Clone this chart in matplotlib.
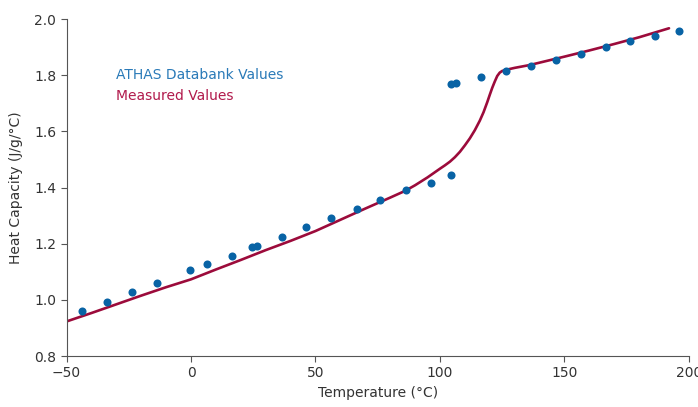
import numpy as np
import matplotlib.pyplot as plt

# ATHAS databank points
athas_t = [-43.6, -33.7, -23.5, -13.5, -0.4, 6.6, 16.5, 24.6, 26.4, 36.5, 46.3, 56.4,
           66.5, 76.1, 86.3, 96.5, 104.4, 104.4, 106.5, 116.6, 126.4, 136.6, 146.6,
           156.7, 166.7, 176.5, 186.3, 196.1]
athas_cp = [0.960, 0.992, 1.029, 1.060, 1.105, 1.126, 1.157, 1.187, 1.190, 1.225, 1.258, 1.290,
            1.323, 1.356, 1.390, 1.417, 1.443, 1.767, 1.773, 1.793, 1.814, 1.834, 1.855,
            1.875, 1.901, 1.920, 1.938, 1.959]

# measured curve
meas_t = [-50, -40, -30, -20, -10, 0, 10, 20, 30, 40, 50, 60, 70, 80, 86, 90, 95, 100,
          102, 104, 106, 108, 110, 112, 114, 116, 117.5, 119, 120, 121, 122, 123, 124,
          125, 126.5, 128, 130, 136, 150, 160, 170, 180, 192]
meas_cp = [0.923, 0.953, 0.984, 1.015, 1.045, 1.073, 1.108, 1.142, 1.177, 1.210, 1.245,
           1.285, 1.325, 1.364, 1.388, 1.408, 1.436, 1.467, 1.479, 1.492, 1.508, 1.527,
           1.550, 1.575, 1.604, 1.638, 1.668, 1.704, 1.730, 1.755, 1.777, 1.797, 1.809,
           1.815, 1.819, 1.822, 1.826, 1.836, 1.866, 1.888, 1.911, 1.935, 1.967]

fig = plt.figure(figsize=(6.98, 4.07), dpi=100)
ax = fig.add_axes([0.0953, 0.1253, 0.8917, 0.828])

ax.plot(meas_t, meas_cp, color='#9c0b3b', lw=1.9, solid_capstyle='round',
        solid_joinstyle='round', zorder=2)
ax.plot(athas_t, athas_cp, 'o', color='#0863a5', ms=5.8, mec='none', zorder=3)

ax.set_xlim(-50, 200)
ax.set_ylim(0.8, 2.0)
ax.set_xticks([-50, 0, 50, 100, 150, 200])
ax.set_yticks([0.8, 1.0, 1.2, 1.4, 1.6, 1.8, 2.0])
ax.set_yticklabels(['%.1f' % v for v in ax.get_yticks()])

for s in ['top', 'right']:
    ax.spines[s].set_visible(False)
for s in ['left', 'bottom']:
    ax.spines[s].set_color('#555555')
    ax.spines[s].set_linewidth(0.8)
ax.tick_params(colors='#555555', labelcolor='#333333', labelsize=10, length=4, width=0.8)

ax.set_xlabel('Temperature (°C)', fontsize=10, color='#333333', labelpad=4)
ax.set_ylabel('Heat Capacity (J/g/°C)', fontsize=10, color='#333333', labelpad=8)

ax.text(0.08, 0.834, 'ATHAS Databank Values', transform=ax.transAxes,
        fontsize=10, color='#2a7ab8', va='center')
ax.text(0.08, 0.771, 'Measured Values', transform=ax.transAxes,
        fontsize=10, color='#b11a4c', va='center')

fig.savefig('out.png', dpi=100)
